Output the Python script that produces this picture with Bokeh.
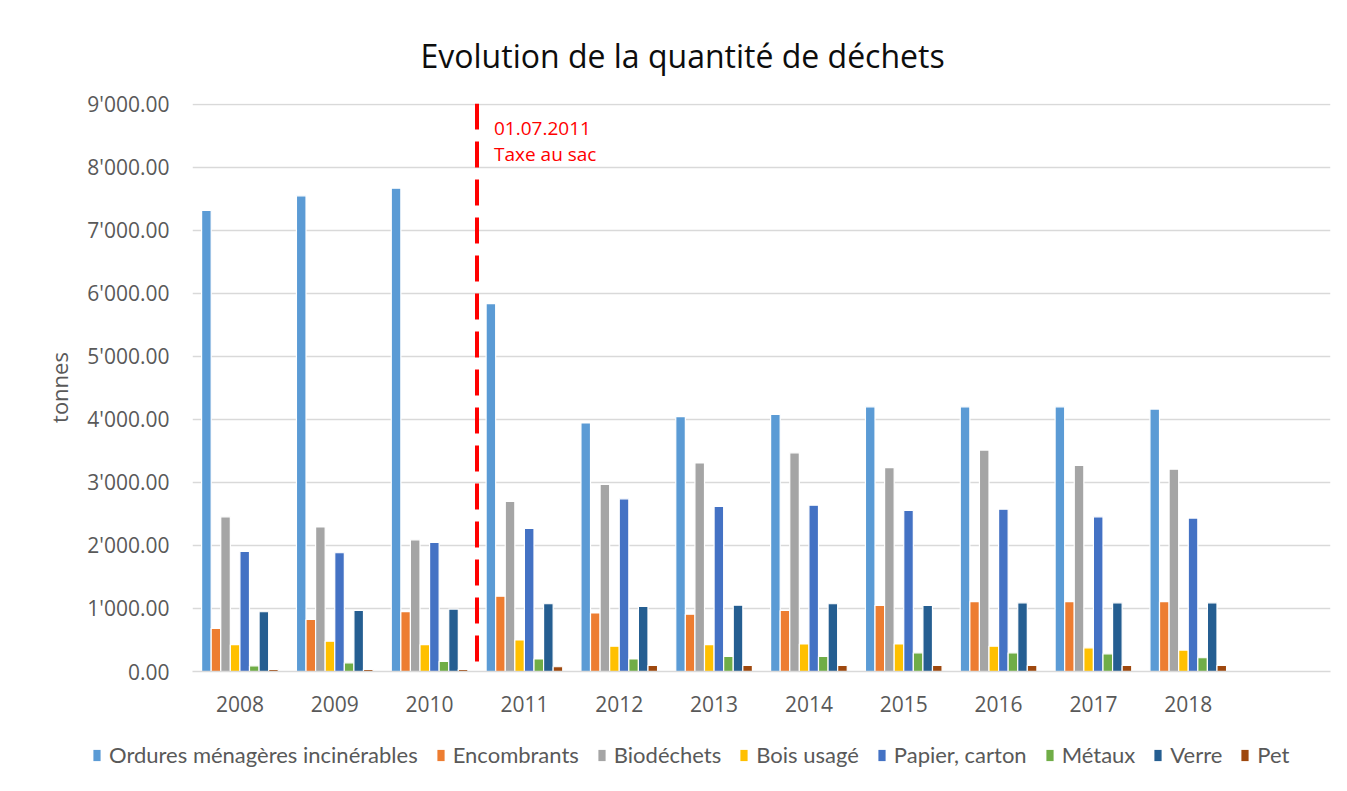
from bokeh.plotting import figure
from bokeh.models import (ColumnDataSource, FactorRange, Range1d, FixedTicker, Span, Label,
                          Legend, LegendItem)
from bokeh.transform import dodge
from bokeh.embed import file_html
from bokeh.resources import INLINE

years = ["2008", "2009", "2010", "2011", "2012", "2013", "2014", "2015", "2016", "2017", "2018"]
factors = years + [" "]

series_names = ["Ordures ménagères incinérables", "Encombrants", "Biodéchets", "Bois usagé",
                "Papier, carton", "Métaux", "Verre", "Pet"]
series_colors = ["#5B9BD5", "#ED7D31", "#A5A5A5", "#FFC000", "#4472C4", "#70AD47", "#255E91", "#9E480E"]

ordures = [7320, 7550, 7670, 5840, 3945, 4045, 4080, 4200, 4200, 4200, 4165]
encombrants = [685, 825, 950, 1195, 930, 910, 968, 1050, 1110, 1110, 1110]
biodechets = [2455, 2295, 2090, 2700, 2970, 3310, 3470, 3235, 3515, 3270, 3210]
bois = [425, 480, 425, 500, 402, 425, 438, 438, 402, 376, 340]
papier = [1905, 1885, 2050, 2270, 2740, 2620, 2640, 2555, 2575, 2455, 2435]
metaux = [90, 138, 160, 200, 200, 238, 238, 296, 296, 280, 218]
verre = [948, 968, 990, 1075, 1032, 1053, 1075, 1050, 1090, 1090, 1090]
pet = [35, 35, 35, 75, 95, 95, 95, 95, 95, 95, 95]

y_ticks = [0, 1000, 2000, 3000, 4000, 5000, 6000, 7000, 8000, 9000]
y_tick_labels = ["0.00", "1'000.00", "2'000.00", "3'000.00", "4'000.00", "5'000.00",
                 "6'000.00", "7'000.00", "8'000.00", "9'000.00"]

event_boundary = 3.0  # between 2010 and 2011 (factor coordinates)
event_lines = ["01.07.2011", "Taxe au sac"]
event_label_y = [8620, 8220]

title_text = "Evolution de la quantité de déchets"

data = dict(year=years, s0=ordures, s1=encombrants, s2=biodechets, s3=bois,
            s4=papier, s5=metaux, s6=verre, s7=pet)
source = ColumnDataSource(data)

FONT = "Open Sans"
GREY = "#595959"

p = figure(width=1340, height=725, x_range=FactorRange(*factors), y_range=Range1d(0, 9015),
           output_backend="svg", toolbar_location=None,
           min_border_left=192, min_border_right=10, min_border_top=103, min_border_bottom=54)

p.title.text = title_text
p.title.text_font = FONT
p.title.text_font_size = "32px"
p.title.text_font_style = "normal"
p.title.text_color = "#0d0d0d"
p.title.align = "left"
p.title.offset = 228
p.title.standoff = 53

p.outline_line_color = None
p.background_fill_color = "white"
p.border_fill_color = "white"

n = len(series_names)
bw = 0.101
renderers = []
for i in range(n):
    r = p.vbar(x=dodge("year", (i - (n - 1) / 2) * bw, range=p.x_range), top="s%d" % i,
               width=bw, source=source, fill_color=series_colors[i],
               line_color="white", line_width=1.2)
    renderers.append(r)

p.xgrid.grid_line_color = None
p.ygrid.grid_line_color = "#d9d9d9"
p.ygrid.grid_line_width = 1.5

p.yaxis.ticker = FixedTicker(ticks=y_ticks)
p.yaxis.major_label_overrides = {t: l for t, l in zip(y_ticks, y_tick_labels)}
p.yaxis.axis_line_color = None
p.yaxis.major_tick_line_color = None
p.yaxis.minor_tick_line_color = None
p.yaxis.major_tick_out = 0
p.yaxis.major_tick_in = 0
p.yaxis.major_label_text_font = FONT
p.yaxis.major_label_text_font_size = "21px"
p.yaxis.major_label_text_color = GREY
p.yaxis.major_label_standoff = 23
p.yaxis.axis_label = "tonnes"
p.yaxis.axis_label_text_font = FONT
p.yaxis.axis_label_text_font_size = "22px"
p.yaxis.axis_label_text_font_style = "normal"
p.yaxis.axis_label_text_color = GREY
p.yaxis.axis_label_standoff = 10

p.xaxis.axis_line_color = "#d9d9d9"
p.xaxis.axis_line_width = 1.5
p.xaxis.major_tick_line_color = None
p.xaxis.minor_tick_line_color = None
p.xaxis.major_tick_out = 0
p.xaxis.major_tick_in = 0
p.xaxis.major_label_text_font = FONT
p.xaxis.major_label_text_font_size = "21px"
p.xaxis.major_label_text_color = GREY
p.xaxis.major_label_standoff = 18

p.add_layout(Span(location=event_boundary, dimension="height", line_color="#FF0000",
                  line_width=4, line_dash="26 12"))
for txt, yy in zip(event_lines, event_label_y):
    p.add_layout(Label(x=event_boundary, y=yy, x_offset=17, text=txt, text_font=FONT,
                       text_font_size="19px", text_color="#FF0000", text_baseline="middle"))

# Legend drawn in a separate strip below the chart
lf = figure(width=1340, height=60, x_range=Range1d(0, 1), y_range=Range1d(0, 1),
            output_backend="svg", toolbar_location=None,
            min_border_left=0, min_border_right=0, min_border_top=0, min_border_bottom=0)
lf.axis.visible = False
lf.grid.visible = False
lf.outline_line_color = None
lf.border_fill_color = "white"
lf.background_fill_color = "white"
proxy = ColumnDataSource(dict(x=[0], top=[0]))  # zero-height proxies, only used for legend swatches
leg_renderers = [lf.vbar(x="x", top="top", width=0.001, source=proxy, fill_color=c,
                         line_color=None) for c in series_colors]
legend = Legend(items=[LegendItem(label=nm, renderers=[r]) for nm, r in zip(series_names, leg_renderers)],
                orientation="horizontal", location=(92, 17),
                label_text_font="Lato", label_text_font_size="22px", label_text_color=GREY,
                glyph_width=9, glyph_height=14, label_standoff=8, spacing=18,
                padding=0, margin=0, border_line_color=None, background_fill_alpha=0)
lf.add_layout(legend, "center")

open("out.html", "w").write(file_html([p, lf], INLINE))
